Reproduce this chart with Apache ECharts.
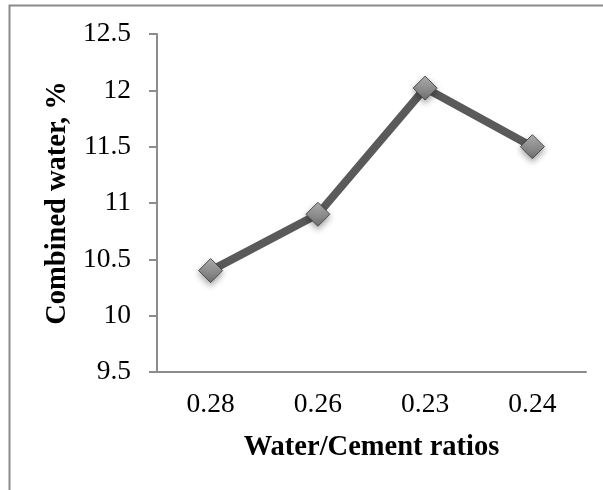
<!DOCTYPE html>
<html>
<head>
<meta charset="utf-8">
<script src="https://cdn.jsdelivr.net/npm/echarts@6/dist/echarts.min.js"></script>
<style>
  html, body { margin: 0; padding: 0; background: #ffffff; }
  #chart { width: 603px; height: 490px; }
</style>
</head>
<body>
<div id="chart"></div>
<script>
// Water/cement ratio categories (in the order tested)
const ratios = ['0.28', '0.26', '0.23', '0.24'];
// Combined water content for each ratio, %
const combinedWater = [10.4, 10.9, 12.02, 11.5];
// Value axis range and step
const yMin = 9.5;
const yMax = 12.5;
const yStep = 0.5;

const chart = echarts.init(document.getElementById('chart'), null, { renderer: 'canvas' });

const serif = '"Liberation Serif", "Times New Roman", serif';
const axisGray = '#8c8c8c';

chart.setOption({
  backgroundColor: '#ffffff',
  animation: false,
  grid: { left: 157, right: 17, top: 34, bottom: 118, containLabel: false },
  graphic: [{
    // frame around the chart area (top and left edges visible)
    type: 'rect',
    shape: { x: 9.5, y: 5.5, width: 700, height: 600 },
    style: { fill: 'none', stroke: '#8a8a8a', lineWidth: 2 },
    silent: true
  }],
  xAxis: {
    type: 'category',
    data: ratios,
    boundaryGap: true,
    name: 'Water/Cement ratios',
    nameLocation: 'middle',
    nameGap: 61,
    nameTextStyle: { fontFamily: serif, fontWeight: 'bold', fontSize: 28.5, color: '#000' },
    axisLine: { lineStyle: { color: axisGray, width: 2 } },
    axisTick: { show: false },
    axisLabel: { fontFamily: serif, fontSize: 27.5, color: '#000', margin: 19 },
    splitLine: { show: false }
  },
  yAxis: {
    type: 'value',
    min: yMin,
    max: yMax,
    interval: yStep,
    name: 'Combined water, %',
    nameLocation: 'middle',
    nameGap: 80,
    nameRotate: 90,
    nameTextStyle: { fontFamily: serif, fontWeight: 'bold', fontSize: 28.5, color: '#000' },
    axisLine: { show: true, lineStyle: { color: axisGray, width: 2 } },
    axisTick: { show: true, length: 8, lineStyle: { color: axisGray, width: 2 } },
    axisLabel: { fontFamily: serif, fontSize: 27.5, color: '#000', margin: 26 },
    splitLine: { show: false }
  },
  series: [{
    type: 'line',
    data: combinedWater,
    symbol: 'diamond',
    symbolSize: 24,
    lineStyle: { color: '#5a5a5a', width: 8 },
    itemStyle: {
      color: new echarts.graphic.LinearGradient(0, 0, 0, 1, [
        { offset: 0, color: '#b4b4b4' },
        { offset: 1, color: '#6e6e6e' }
      ]),
      borderColor: '#4d4d4d',
      borderWidth: 1,
      shadowBlur: 6,
      shadowOffsetY: 3,
      shadowColor: 'rgba(0,0,0,0.35)'
    },
    emphasis: { disabled: true },
    z: 3
  }]
});
</script>
</body>
</html>
